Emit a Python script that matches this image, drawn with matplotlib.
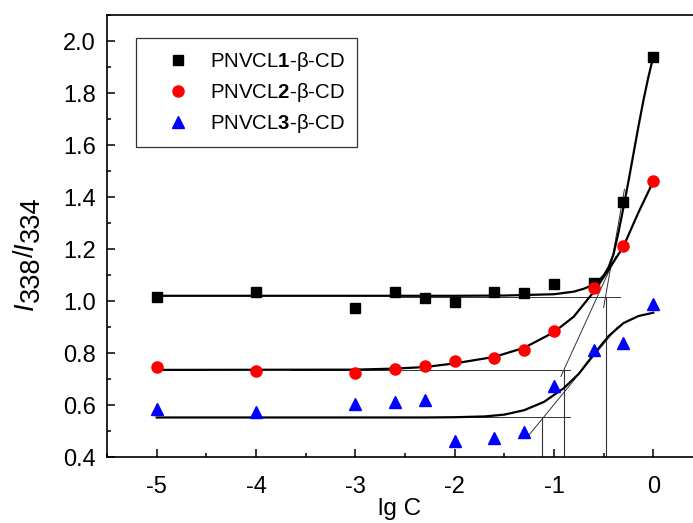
import matplotlib
matplotlib.use("Agg")
import matplotlib.pyplot as plt
from matplotlib.ticker import MultipleLocator

plt.rcParams['font.family'] = ['Liberation Sans', 'DejaVu Sans']
plt.rcParams['mathtext.fontset'] = 'custom'
plt.rcParams['mathtext.rm'] = 'Liberation Sans'
plt.rcParams['mathtext.it'] = 'Liberation Sans:italic'
plt.rcParams['mathtext.bf'] = 'Liberation Sans:bold'
plt.rcParams['axes.unicode_minus'] = False

# measured points
lgc = [-5, -4, -3, -2.6, -2.3, -2, -1.6, -1.3, -1, -0.6, -0.3, 0]
ratio1 = [1.015, 1.035, 0.975, 1.035, 1.01, 0.995, 1.035, 1.03, 1.065, 1.07, 1.38, 1.94]
ratio2 = [0.745, 0.73, 0.725, 0.74, 0.75, 0.77, 0.78, 0.81, 0.885, 1.05, 1.21, 1.46]
ratio3 = [0.585, 0.575, 0.605, 0.61, 0.62, 0.46, 0.475, 0.495, 0.675, 0.81, 0.84, 0.99]
labels = [r'PNVCL$\mathbf{1}$-β-CD', r'PNVCL$\mathbf{2}$-β-CD', r'PNVCL$\mathbf{3}$-β-CD']

# fitted curves
fit1_x = [-5, -2, -1.5, -1.0, -0.8, -0.7, -0.6, -0.55, -0.5, -0.45, -0.4, -0.35, -0.3,
          -0.25, -0.2, -0.15, -0.1, -0.05, 0]
fit1_y = [1.02, 1.02, 1.021, 1.026, 1.036, 1.047, 1.063, 1.078, 1.098, 1.13, 1.18, 1.265, 1.36,
          1.46, 1.565, 1.67, 1.77, 1.86, 1.94]
fit2_x = [-5, -3, -2.6, -2.3, -2.0, -1.6, -1.3, -1.0, -0.8, -0.6, -0.45, -0.3, -0.15, 0]
fit2_y = [0.735, 0.736, 0.74, 0.746, 0.76, 0.785, 0.82, 0.88, 0.94, 1.035, 1.12, 1.21, 1.34, 1.46]
fit3_x = [-5, -2.3, -2.0, -1.7, -1.5, -1.3, -1.1, -0.9, -0.75, -0.6, -0.45, -0.3, -0.15, 0]
fit3_y = [0.552, 0.552, 0.553, 0.556, 0.563, 0.58, 0.612, 0.665, 0.72, 0.795, 0.865, 0.915, 0.942, 0.955]

# construction lines: baselines, tangents, drop lines
base_x = [[-2.65, -0.34], [-3.65, -0.84], [-2.88, -0.84]]
base_y = [1.015, 0.735, 0.553]
tan_x = [[-0.50, -0.29], [-0.93, -0.38], [-1.25, -0.36]]
tan_y = [[0.975, 1.43], [0.71, 1.17], [0.485, 0.90]]
cross_x = [-0.48, -0.90, -1.12]

W, H = 693, 523
fig = plt.figure(figsize=(W / 100, H / 100), dpi=100)
ax = fig.add_axes([107 / W, 66 / H, 1 - 107 / W, 442 / H])

for i in range(3):
    ax.plot(base_x[i], [base_y[i], base_y[i]], color='#333333', lw=0.7)
    ax.plot(tan_x[i], tan_y[i], color='#333333', lw=0.7)
    ax.plot([cross_x[i], cross_x[i]], [0.4, base_y[i]], color='#333333', lw=0.8)

ax.plot(fit1_x, fit1_y, color='black', lw=1.6)
ax.plot(fit2_x, fit2_y, color='black', lw=1.6)
ax.plot(fit3_x, fit3_y, color='black', lw=1.6)

ax.plot(lgc, ratio1, 's', color='black', ms=7, label=labels[0])
ax.plot(lgc, ratio2, 'o', color='#ff0000', ms=8, label=labels[1])
ax.plot(lgc, ratio3, '^', color='#0000ff', ms=8, label=labels[2])

ax.set_xlim(-5.5, 0.4)
ax.set_ylim(0.4, 2.1)
ax.xaxis.set_major_locator(MultipleLocator(1))
ax.xaxis.set_minor_locator(MultipleLocator(0.5))
ax.yaxis.set_minor_locator(MultipleLocator(0.1))
ax.set_yticks([0.4, 0.6, 0.8, 1.0, 1.2, 1.4, 1.6, 1.8, 2.0])
ax.tick_params(which='both', direction='in', top=False, right=False, labelsize=17, width=1.1)
ax.tick_params(which='major', length=6)
ax.tick_params(which='minor', length=3)
ax.tick_params(axis='x', which='major', pad=14)
ax.tick_params(axis='y', which='major', pad=8)
ax.spines['right'].set_visible(False)
for s in ['left', 'bottom', 'top']:
    ax.spines[s].set_linewidth(1.2)

ax.set_xlabel('lg C', fontsize=17.5, labelpad=0)

# y label: I338/I334 built from pieces, reading bottom to top
renderer = fig.canvas.get_renderer()
pieces = [('I', 'italic', 0), ('338', 'normal', 6), ('/', 'normal', 0),
          ('I', 'italic', 0), ('334', 'normal', 6)]
ypos = 213
for txt, st, shift in pieces:
    t = fig.text((33 + shift) / W, ypos / H, txt, fontsize=19.5, style=st, rotation=90,
                 rotation_mode='anchor', ha='left', va='baseline')
    tmp = fig.text(0, 0, txt, fontsize=19.5, style=st)
    ypos += tmp.get_window_extent(renderer).width
    tmp.remove()

leg = ax.legend(loc='upper left', bbox_to_anchor=(29 / 586, 1 - 23 / 442), borderaxespad=0,
                fontsize=14.7, frameon=True, fancybox=False, edgecolor='black',
                handletextpad=0.1, borderpad=0.6, labelspacing=0.38, handlelength=2.9)
leg.get_frame().set_linewidth(0.9)

fig.savefig('out.png', dpi=100)
